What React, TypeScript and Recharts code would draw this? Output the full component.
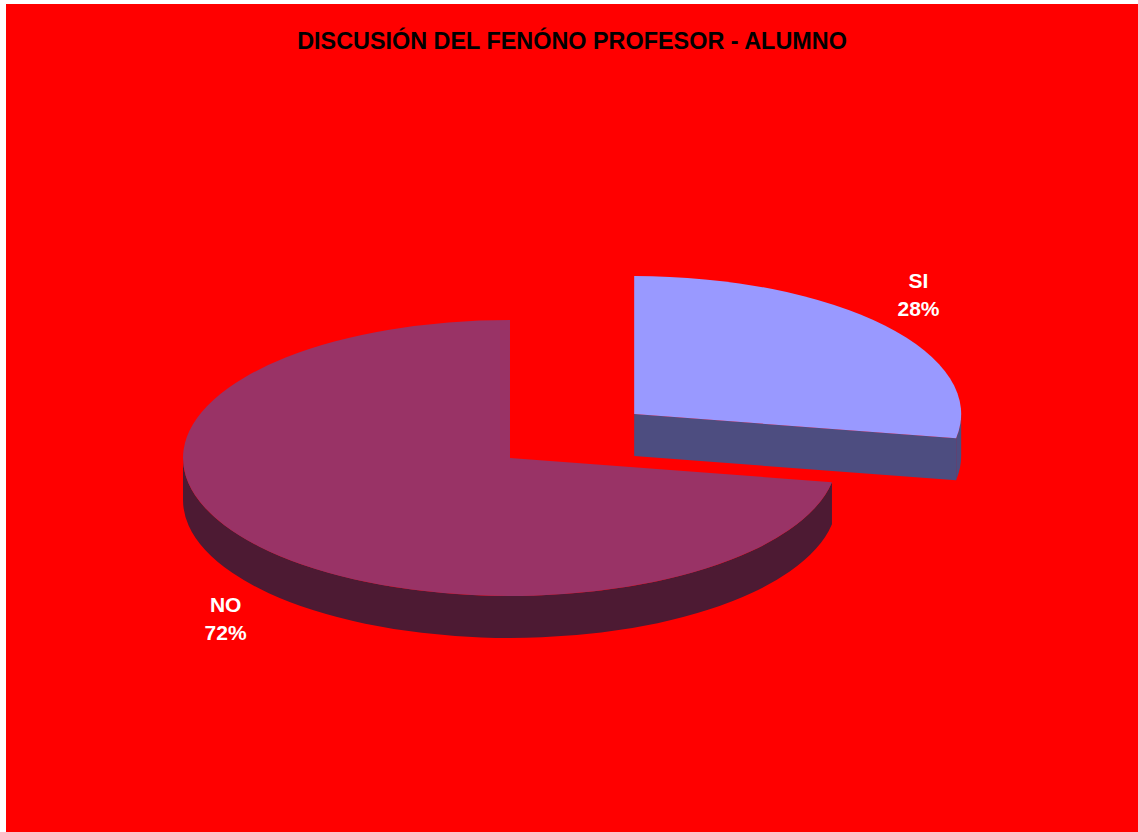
import { Pie, PieChart } from 'recharts';

const categories = ['SI', 'NO'];
const shares = [27.8, 72.2];
const sliceColors = ['#9999FF', '#993366'];
const wallColors = ['#4D4D80', '#4D1A33'];
const explodeRadius = [162, 0];

const chartTable = categories.map((name, i) => ({
  name,
  value: shares[i],
  fill: sliceColors[i],
  wall: wallColors[i],
  explode: explodeRadius[i]
}));

// the flat tilt of the 3D pie
const TILT = 0.422;
const DEPTH = 42;
const RADIUS = 327;
const LABEL_RADIUS = 371;
const LABEL_RADIUS_Y = 186;
const RAD = Math.PI / 180;

const onEllipse = (cx: number, cy: number, r: number, angle: number) => ({
  x: cx + r * Math.cos(angle * RAD),
  y: cy - r * TILT * Math.sin(angle * RAD)
});

const arcTo = (r: number, from: number, to: number, x: number, y: number, reverse = false) => {
  const large = Math.abs(to - from) > 180 ? 1 : 0;
  return `A ${r} ${r * TILT} 0 ${large} ${reverse ? 0 : 1} ${x} ${y}`;
};

function TiltedSlice(props: any) {
  const { startAngle, endAngle, midAngle, outerRadius: r, fill, wall, explode } = props;
  const mid = onEllipse(props.cx, props.cy, explode, midAngle);
  const cx = mid.x;
  const cy = mid.y;
  const a = onEllipse(cx, cy, r, startAngle);
  const b = onEllipse(cx, cy, r, endAngle);

  // only the lower half of the rim faces the viewer
  const from = Math.min(startAngle, 0);
  const to = Math.max(endAngle, -180);
  const walls: string[] = [];
  if (from > to) {
    const p = onEllipse(cx, cy, r, from);
    const q = onEllipse(cx, cy, r, to);
    walls.push(
      `M ${p.x} ${p.y} ${arcTo(r, from, to, q.x, q.y)} L ${q.x} ${q.y + DEPTH} ` +
        `${arcTo(r, to, from, p.x, p.y + DEPTH, true)} Z`
    );
  }
  if (Math.cos(endAngle * RAD) > 1e-6) {
    walls.push(`M ${cx} ${cy} L ${b.x} ${b.y} L ${b.x} ${b.y + DEPTH} L ${cx} ${cy + DEPTH} Z`);
  }
  if (Math.cos(startAngle * RAD) < -1e-6) {
    walls.push(`M ${cx} ${cy} L ${a.x} ${a.y} L ${a.x} ${a.y + DEPTH} L ${cx} ${cy + DEPTH} Z`);
  }

  return (
    <g>
      {walls.map((d) => (
        <path key={d} d={d} fill={wall} />
      ))}
      <path
        d={`M ${cx} ${cy} L ${a.x} ${a.y} ${arcTo(r, startAngle, endAngle, b.x, b.y)} Z`}
        fill={fill}
      />
    </g>
  );
}

function SliceLabel(props: any) {
  const { cx, cy, midAngle, name, percent, payload } = props;
  const explode = payload?.explode ?? props.explode ?? 0;
  const sin = Math.sin(midAngle * RAD);
  const x = cx + (explode + LABEL_RADIUS) * Math.cos(midAngle * RAD);
  const base = cy - explode * TILT * sin;
  const y = base - LABEL_RADIUS_Y * sin + (sin < 0 ? DEPTH : 0);
  return (
    <text
      x={x}
      y={y}
      textAnchor="middle"
      fill="#ffffff"
      fontFamily="Liberation Sans"
      fontWeight={700}
      fontSize={21}
    >
      <tspan x={x} dy={-7}>
        {name}
      </tspan>
      <tspan x={x} dy={28}>
        {`${Math.round(percent * 100)}%`}
      </tspan>
    </text>
  );
}

export default function App() {
  return (
    <div style={{ position: 'absolute', left: 6, top: 4, width: 1132, height: 828, background: '#ff0000' }}>
      <div
        style={{
          position: 'absolute',
          top: 22,
          width: '100%',
          textAlign: 'center',
          fontFamily: 'Liberation Sans',
          fontWeight: 700,
          fontSize: 23.4,
          lineHeight: '30px',
          color: '#000000'
        }}
      >
        DISCUSIÓN DEL FENÓNO PROFESOR - ALUMNO
      </div>
      <PieChart width={1132} height={828} margin={{ top: 0, right: 0, bottom: 0, left: 0 }}>
        <Pie
          data={chartTable}
          dataKey="value"
          nameKey="name"
          cx={504}
          cy={454}
          outerRadius={RADIUS}
          startAngle={90}
          endAngle={-270}
          stroke="none"
          shape={TiltedSlice}
          label={SliceLabel}
          labelLine={false}
          isAnimationActive={false}
        />
      </PieChart>
    </div>
  );
}
